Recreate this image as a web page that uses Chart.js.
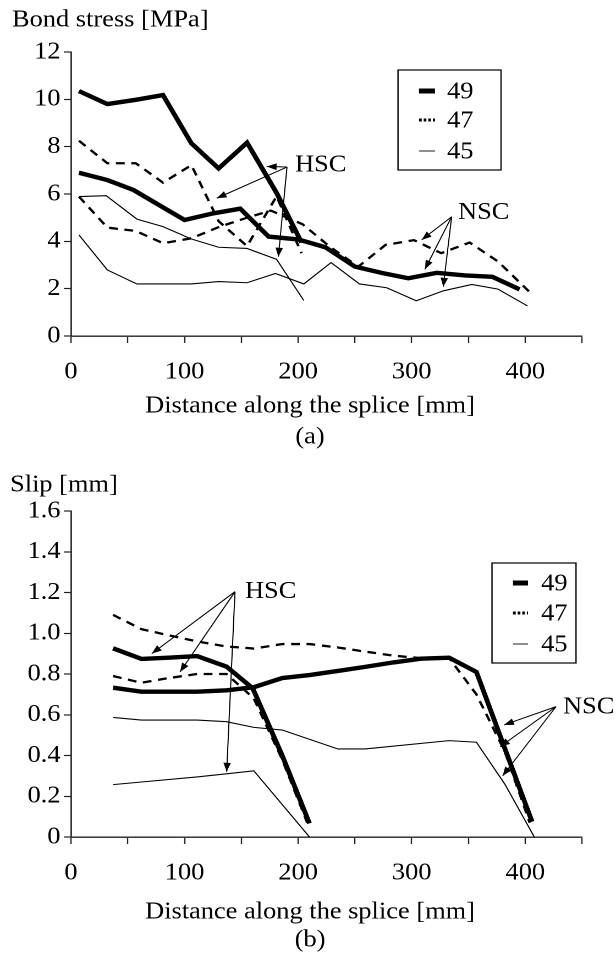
<!DOCTYPE html>
<html>
<head>
<meta charset="utf-8">
<script src="https://cdn.jsdelivr.net/npm/chart.js@4.4.1/dist/chart.umd.min.js"></script>
<style>
html,body{margin:0;padding:0;background:#fff;}
#page{position:relative;width:616px;height:960px;overflow:hidden;}
.panel{position:absolute;left:0;width:560px;transform-origin:0 0;}
</style>
</head>
<body>
<div id="page">
  <div class="panel" id="pa" style="top:0;height:460px"><canvas id="ca" width="560" height="460"></canvas></div>
  <div class="panel" id="pb" style="top:460px;height:500px"><canvas id="cb" width="560" height="500"></canvas></div>
</div>
<script>
// ---------- data ----------
const seriesLabels = ['49', '47', '45'];
const xTickLabels = ['0', '100', '200', '300', '400'];
const yTickLabelsA = ['0', '2', '4', '6', '8', '10', '12'];
const yTickLabelsB = ['0', '0.2', '0.4', '0.6', '0.8', '1.0', '1.2', '1.4', '1.6'];

// (a) Bond stress [MPa] vs distance [mm]
const a49H_x = [7, 32, 57, 81, 106, 130, 155, 181, 203];
const a49H_y = [10.35, 9.8, 9.98, 10.18, 8.14, 7.08, 8.17, 6.05, 3.95];
const a47H_x = [7, 32, 57, 81, 106, 130, 155, 181, 203];
const a47H_y = [8.25, 7.3, 7.3, 6.48, 7.22, 4.85, 3.8, 5.9, 3.5];
const a45H_x = [7, 31, 58, 81, 106, 130, 155, 181, 205];
const a45H_y = [5.89, 5.93, 4.94, 4.62, 4.1, 3.75, 3.7, 3.24, 1.5];
const a49N_x = [7, 32, 55, 78, 100, 125, 149, 174, 200, 224, 250, 274, 297, 322, 347, 371, 395];
const a49N_y = [6.9, 6.59, 6.17, 5.52, 4.9, 5.18, 5.38, 4.2, 4.08, 3.75, 2.93, 2.66, 2.44, 2.67, 2.56, 2.5, 1.97];
const a47N_x = [7, 32, 57, 81, 106, 130, 155, 176, 204, 228, 253, 277, 302, 326, 351, 376, 404];
const a47N_y = [5.89, 4.58, 4.44, 3.92, 4.13, 4.6, 5.0, 5.3, 4.72, 3.77, 2.93, 3.85, 4.05, 3.5, 3.95, 3.15, 1.85];
const a45N_x = [7, 32, 58, 81, 106, 130, 155, 180, 205, 229, 254, 278, 304, 328, 353, 376, 402];
const a45N_y = [4.27, 2.79, 2.2, 2.2, 2.2, 2.3, 2.25, 2.64, 2.2, 3.1, 2.2, 2.04, 1.49, 1.91, 2.18, 1.98, 1.27];

// (b) Slip [mm] vs distance [mm]
const b49H_x = [37, 62, 86, 111, 137, 160, 186, 210];
const b49H_y = [0.926, 0.874, 0.88, 0.888, 0.836, 0.73, 0.40, 0.067];
const b47H_x = [37, 62, 86, 111, 137, 161, 186, 208];
const b47H_y = [0.79, 0.757, 0.78, 0.80, 0.80, 0.68, 0.38, 0.07];
const b45H_x = [37, 62, 111, 137, 161, 210];
const b45H_y = [0.257, 0.27, 0.295, 0.31, 0.325, 0];
const b49N_x = [37, 62, 111, 137, 161, 186, 210, 235, 259, 284, 308, 333, 357, 406];
const b49N_y = [0.733, 0.713, 0.713, 0.72, 0.735, 0.78, 0.795, 0.815, 0.835, 0.857, 0.875, 0.88, 0.81, 0.075];
const b47N_x = [37, 62, 86, 111, 137, 161, 186, 210, 235, 259, 284, 308, 333, 357, 382, 404];
const b47N_y = [1.09, 1.02, 0.99, 0.96, 0.935, 0.925, 0.947, 0.947, 0.93, 0.91, 0.89, 0.878, 0.878, 0.70, 0.42, 0.07];
const b45N_x = [37, 62, 111, 137, 161, 186, 235, 259, 333, 357, 382, 408];
const b45N_y = [0.587, 0.574, 0.574, 0.566, 0.538, 0.525, 0.432, 0.432, 0.473, 0.465, 0.26, 0];

// ---------- rendering ----------
const W = 560;
const SX = 616 / W; // horizontal stretch of the original figure
document.getElementById('pa').style.transform = 'scaleX(' + SX + ')';
document.getElementById('pb').style.transform = 'scaleX(' + SX + ')';

const FONT = "'Liberation Serif', 'Times New Roman', serif";
const FS = 24;
Chart.defaults.font.family = FONT;
Chart.defaults.font.size = FS;
Chart.defaults.color = '#000';

const pts = (xs, ys) => xs.map((x, i) => ({ x: x, y: ys[i] }));
const STYLE = {
  '49': { borderWidth: 4.4, borderDash: [] },
  '47': { borderWidth: 2.3, borderDash: [8, 6] },
  '45': { borderWidth: 1.1, borderDash: [] }
};
function ds(label, xs, ys) {
  return Object.assign({
    label: label, data: pts(xs, ys), borderColor: '#000', backgroundColor: '#000',
    pointRadius: 0, pointHoverRadius: 0, fill: false, tension: 0
  }, STYLE[label]);
}

function arrow(ctx, x0, y0, x1, y1) {
  ctx.beginPath(); ctx.moveTo(x0, y0); ctx.lineTo(x1, y1); ctx.stroke();
  const a = Math.atan2(y1 - y0, x1 - x0), L = 9, Wd = 3.4;
  ctx.beginPath();
  ctx.moveTo(x1, y1);
  ctx.lineTo(x1 - L * Math.cos(a) + Wd * Math.sin(a), y1 - L * Math.sin(a) - Wd * Math.cos(a));
  ctx.lineTo(x1 - L * Math.cos(a) - Wd * Math.sin(a), y1 - L * Math.sin(a) + Wd * Math.cos(a));
  ctx.closePath(); ctx.fill();
}

const deco = {
  id: 'deco',
  afterDraw(chart, args, o) {
    const ctx = chart.ctx, xs = chart.scales.x, ys = chart.scales.y;
    ctx.save();
    ctx.fillStyle = '#000'; ctx.strokeStyle = '#000'; ctx.lineWidth = 1;
    ctx.font = FS + 'px ' + FONT;
    ctx.textBaseline = 'middle';
    (o.texts || []).forEach(t => {
      ctx.textAlign = t.align || 'left';
      ctx.fillText(t.text, t.px / SX, t.py);
    });
    (o.notes || []).forEach(n => {
      ctx.textAlign = 'left';
      ctx.fillText(n.text, xs.getPixelForValue(n.x), ys.getPixelForValue(n.y));
      n.arrows.forEach(p => arrow(ctx, xs.getPixelForValue(n.ox), ys.getPixelForValue(n.oy),
        xs.getPixelForValue(p[0]), ys.getPixelForValue(p[1])));
    });
    const lg = o.legend;
    if (lg) {
      ctx.lineWidth = 1.2;
      ctx.strokeRect(lg.box[0] / SX, lg.box[1], (lg.box[2] - lg.box[0]) / SX, lg.box[3] - lg.box[1]);
      seriesLabels.forEach((lab, i) => {
        const y = lg.rows[i];
        ctx.save();
        if (lab === '49') { ctx.lineWidth = 5; ctx.setLineDash([]); }
        else if (lab === '47') { ctx.lineWidth = 3; ctx.setLineDash([2.5, 1.7]); }
        else { ctx.lineWidth = 1.1; ctx.setLineDash([]); ctx.strokeStyle = '#333'; }
        ctx.beginPath(); ctx.moveTo(lg.sample[0] / SX, y); ctx.lineTo(lg.sample[1] / SX, y); ctx.stroke();
        ctx.restore();
        ctx.textAlign = 'left';
        ctx.fillText(lab, lg.textX / SX, y + 1);
      });
    }
    ctx.restore();
  }
};

function axisOpts(min, max, step, labels, tickLen, pad) {
  return {
    type: 'linear', min: min, max: max,
    ticks: {
      stepSize: step, autoSkip: false, maxRotation: 0, padding: pad, color: '#000',
      font: { family: FONT, size: FS },
      callback: (v) => {
        const f = labels.find(l => Math.abs(parseFloat(l) - v) < 1e-6);
        return f === undefined ? '' : f;
      }
    },
    grid: { drawOnChartArea: false, drawTicks: true, tickLength: tickLen, tickColor: '#222', tickWidth: 1.2 },
    border: { display: true, color: '#222', width: 1.4 }
  };
}

function build(id, datasets, yMin, yMax, yStep, yLabels, padTop, xAxisH, deco_opts) {
  const x = axisOpts(0, 450, 50, xTickLabels, 7, 15);
  x.afterFit = s => { s.height = xAxisH; s.paddingLeft = 0; s.paddingRight = 0; };
  const y = axisOpts(yMin, yMax, yStep, yLabels, 6.5, 3);
  y.afterFit = s => { s.width = 71 / SX; s.paddingTop = 0; s.paddingBottom = 0; };
  return new Chart(document.getElementById(id), {
    type: 'line',
    data: { datasets: datasets },
    options: {
      responsive: false, animation: false, devicePixelRatio: 2,
      layout: { padding: { top: padTop, left: 0, right: W - 582 / SX, bottom: 0 } },
      scales: { x: x, y: y },
      plugins: { legend: { display: false }, title: { display: false }, tooltip: { enabled: false }, deco: deco_opts },
      events: []
    },
    plugins: [deco]
  });
}

build('ca', [
  ds('49', a49H_x, a49H_y), ds('47', a47H_x, a47H_y), ds('45', a45H_x, a45H_y),
  ds('49', a49N_x, a49N_y), ds('47', a47N_x, a47N_y), ds('45', a45N_x, a45N_y)
], 0, 12, 2, yTickLabelsA, 52, 124, {
  texts: [
    { text: 'Bond stress [MPa]', px: 12, py: 20 },
    { text: 'Distance along the splice [mm]', px: 310, py: 406, align: 'center' },
    { text: '(a)', px: 310, py: 437, align: 'center' }
  ],
  notes: [
    { text: 'HSC', x: 197.3, y: 7.22, ox: 190.2, oy: 7.14, arrows: [[172.3, 7.16], [128.3, 5.82], [182.6, 3.35]] },
    { text: 'NSC', x: 340.8, y: 5.2, ox: 335.2, oy: 5.04, arrows: [[308.8, 4.06], [311.7, 2.82], [327.8, 2.08]] }
  ],
  legend: { box: [398, 70, 501, 170], rows: [91, 120, 151], sample: [419, 435], textX: 447 }
});

build('cb', [
  ds('49', b49H_x, b49H_y), ds('47', b47H_x, b47H_y), ds('45', b45H_x, b45H_y),
  ds('49', b49N_x, b49N_y), ds('47', b47N_x, b47N_y), ds('45', b45N_x, b45N_y)
], 0, 1.6, 0.2, yTickLabelsB, 51, 123, {
  texts: [
    { text: 'Slip [mm]', px: 10, py: 25 },
    { text: 'Distance along the splice [mm]', px: 310, py: 452, align: 'center' },
    { text: '(b)', px: 310, py: 480, align: 'center' }
  ],
  notes: [
    { text: 'HSC', x: 153.2, y: 1.204, ox: 144.4, oy: 1.204, arrows: [[71.1, 0.90], [96, 0.81], [137.1, 0.32]] },
    { text: 'NSC', x: 433.3, y: 0.638, ox: 427.1, oy: 0.64, arrows: [[381.3, 0.55], [377.8, 0.443], [380.1, 0.30]] }
  ],
  legend: { box: [492, 103, 576, 203], rows: [123, 153, 184], sample: [513, 528], textX: 541 }
});
</script>
</body>
</html>
